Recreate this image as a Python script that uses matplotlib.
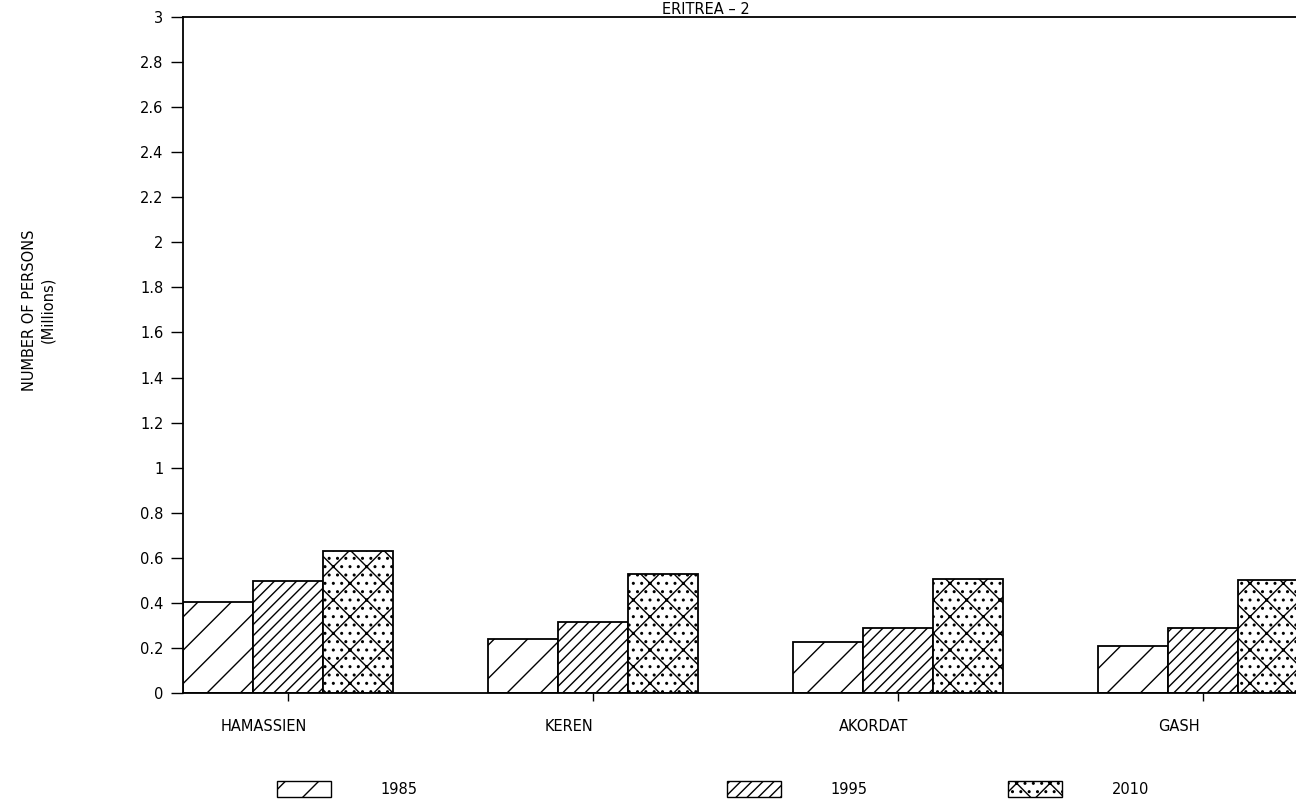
import numpy as np
import matplotlib.pyplot as plt
from matplotlib.patches import Patch

regions = ['HAMASSIEN', 'KEREN', 'AKORDAT', 'GASH']
years = ['1985', '1995', '2010']
pop_1985 = [0.405, 0.24, 0.225, 0.21]
pop_1995 = [0.495, 0.315, 0.29, 0.29]
pop_2010 = [0.63, 0.53, 0.505, 0.50]
hatches = ['/', '///', 'x..']

plt.rcParams['hatch.linewidth'] = 1.0

fig = plt.figure(figsize=(12.96, 8.09), dpi=100)
ax = fig.add_axes([0.1412, 0.1434, 0.8588, 0.8356])

x = np.arange(len(regions))
w = 0.23
for i, vals in enumerate([pop_1985, pop_1995, pop_2010]):
    ax.bar(x + (i - 1) * w, vals, w, color='white', edgecolor='black',
           linewidth=1.3, hatch=hatches[i])

ax.set_xlim(-1.5 * w, 3.305)
ax.set_ylim(0, 3)
ax.set_yticks(np.arange(0, 3.01, 0.2))
ax.set_yticklabels(['0'] + ['%g' % round(v, 1) for v in np.arange(0.2, 3.01, 0.2)])

# tick marks at group centres, names printed a little to the left
ax.set_xticks(x)
ax.set_xticklabels([])
ax.set_xticks(x - 0.08, minor=True)
ax.set_xticklabels(regions, minor=True)

ax.tick_params(axis='y', length=9, width=1, pad=5, labelsize=10.5)
ax.tick_params(axis='x', which='major', length=6, width=1)
ax.tick_params(axis='x', which='minor', length=0, pad=19, labelsize=10.5)
ax.spines['right'].set_visible(False)
for s in ['left', 'bottom', 'top']:
    ax.spines[s].set_linewidth(1.3)

fig.text(0.03, 0.617, 'NUMBER OF PERSONS\n(Millions)', rotation=90,
         ha='center', va='center', fontsize=10.5, linespacing=1.3)
fig.text(706 / 1296, 1 - 14 / 809, 'ERITREA \u2013 2', ha='center',
         va='baseline', fontsize=10.5)

# legend entries placed like the original
box_x = [272, 722, 1003]
for i, yr in enumerate(years):
    h = Patch(facecolor='white', edgecolor='black', hatch=hatches[i], linewidth=1)
    fig.legend([h], [yr], loc='center left', frameon=False,
               bbox_to_anchor=(box_x[i] / 1296 - 0.006, 1 - 789 / 809),
               handlelength=3.7, handleheight=1.3, handletextpad=3.4,
               fontsize=10.5)

fig.savefig('out.png', dpi=100)
